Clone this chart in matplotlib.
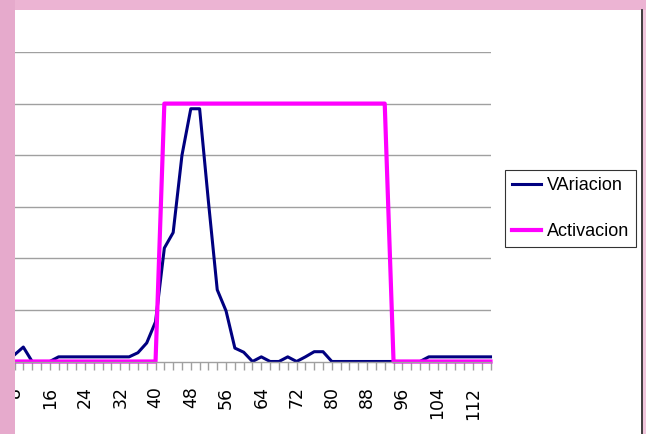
# line chart: VAriacion vs Activacion on a pink slide background

import matplotlib
matplotlib.use("Agg")
import matplotlib.pyplot as plt
from matplotlib.patches import Rectangle
from matplotlib.lines import Line2D

# ── data
categories = [8, 10, 12, 14, 16, 18, 20, 22, 24, 26, 28, 30, 32, 34, 36, 38,
              40, 42, 44, 46, 48, 50, 52, 54, 56, 58, 60, 62, 64, 66, 68, 70,
              72, 74, 76, 78, 80, 82, 84, 86, 88, 90, 92, 94, 96, 98, 100,
              102, 104, 106, 108, 110, 112, 114, 116]

variacion = [0.13, 0.28, 0, 0, 0, 0.09, 0.09, 0.09, 0.09, 0.09, 0.09, 0.09,
             0.09, 0.09, 0.17, 0.36, 0.77, 2.2, 2.5, 4.0, 4.9, 4.9, 3.1, 1.39,
             0.98, 0.26, 0.18, 0, 0.09, 0, 0, 0.09, 0, 0.09, 0.19, 0.19, 0,
             0, 0, 0, 0, 0, 0, 0, 0, 0, 0,
             0.09, 0.09, 0.09, 0.09, 0.09, 0.09, 0.09, 0.09]

activacion = [0] * 17 + [5] * 26 + [0] * 12

tick_labels = [8, 16, 24, 32, 40, 48, 56, 64, 72, 80, 88, 96, 104, 112]
grid_levels = [1, 2, 3, 4, 5, 6]

W, H = 646, 434
PINK_L = "#E6AACC"
PINK_T = "#ECB4D3"
PINK_R = "#F0C6DC"

fig = plt.figure(figsize=(W / 100, H / 100), dpi=100)
fig.patch.set_facecolor(PINK_R)

# top band + white slide panel
fig.add_artist(Rectangle((0, 1 - 10 / H), 1, 10 / H, transform=fig.transFigure,
                         facecolor=PINK_T, edgecolor="none", zorder=-3))
fig.add_artist(Rectangle((15 / W, 0), (641 - 15) / W, 1 - 10 / H,
                         transform=fig.transFigure, facecolor="white",
                         edgecolor="none", zorder=-2))
fig.add_artist(Line2D([641.5 / W, 641.5 / W], [0, 1 - 10 / H],
                      transform=fig.transFigure, color="#333333",
                      linewidth=1.3, zorder=-1))

ax = fig.add_axes([14.5 / W, (H - 361.5) / H, 476 / W, 309.5 / H])
ax.set_facecolor("none")

ax.plot(categories, variacion, color="#000080", linewidth=2.2,
        solid_joinstyle="round", label="VAriacion", clip_on=False)
ax.plot(categories, activacion, color="#FF00FF", linewidth=3.0,
        solid_joinstyle="round", label="Activacion", clip_on=False)

ax.set_xlim(8, 116)
ax.set_ylim(0, 6)

ax.set_xticks(tick_labels)
ax.set_xticklabels([str(t) for t in tick_labels], rotation=90,
                   fontsize=12.5, family="DejaVu Sans")
ax.set_xticks(categories, minor=True)
ax.tick_params(axis="x", which="both", direction="out", length=6,
               color="#A0A0A0", width=1, pad=12)

ax.set_yticks(grid_levels)
ax.set_yticklabels([])
ax.tick_params(axis="y", length=0)
ax.grid(True, axis="y", color="#A0A0A0", linewidth=1)
ax.set_axisbelow(True)

for side in ["left", "top", "right"]:
    ax.spines[side].set_visible(False)
ax.spines["bottom"].set_color("#A0A0A0")
ax.spines["bottom"].set_linewidth(1)

# ── legend box on the right
leg = fig.legend(loc="upper left", bbox_to_anchor=(505 / W, 1 - 170 / H),
                 borderaxespad=0, frameon=True, fancybox=False,
                 prop={"family": "Liberation Sans", "size": 13},
                 handlelength=1.6, handletextpad=0.3, labelspacing=1.6,
                 borderpad=0.4)
leg.get_frame().set_edgecolor("black")
leg.get_frame().set_linewidth(0.8)

# pink strip on the left covers the y axis
fig.add_artist(Rectangle((0, 0), 15 / W, 1, transform=fig.transFigure,
                         facecolor=PINK_L, edgecolor="none", zorder=10))

plt.savefig("out.png", dpi=100, facecolor=fig.get_facecolor())
plt.close()
